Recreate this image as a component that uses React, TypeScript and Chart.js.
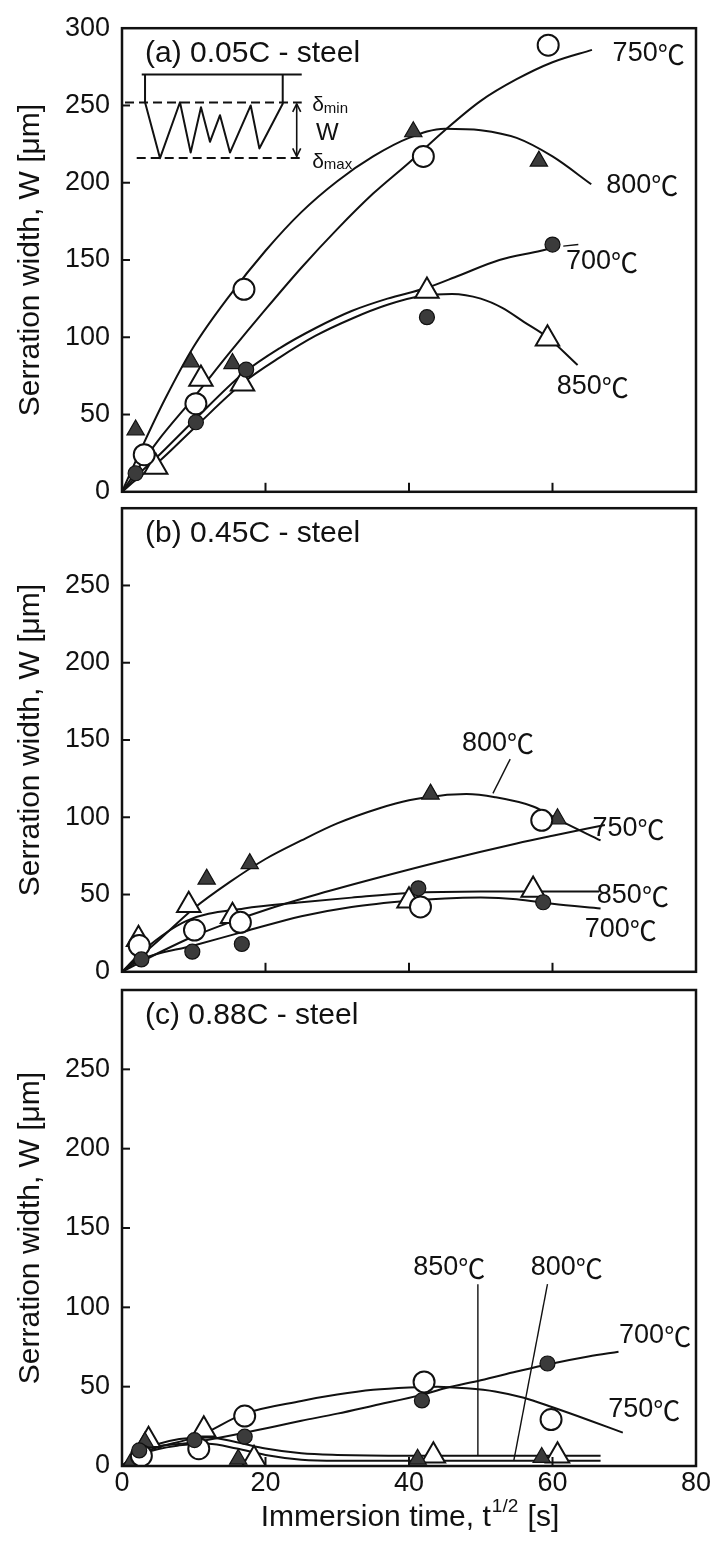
import React, { useEffect, useRef } from "react";
import { Chart, registerables } from "chart.js";

Chart.register(...registerables);

type XY = [number, number];

const FONT = '"Liberation Sans", "Noto Sans CJK JP", Arial, sans-serif';
const CJK_FONT = '"Noto Sans CJK JP", "Liberation Sans", sans-serif';

// ---------- axes ----------
const X_TICKS = [0, 20, 40, 60, 80];
const X_INNER_TICKS = [20, 40, 60];
const Y_TICKS_A = [0, 50, 100, 150, 200, 250, 300];
const Y_TICKS_BC = [0, 50, 100, 150, 200, 250];
const Y_INNER_TICKS = [50, 100, 150, 200, 250];

const PANEL_TITLES = ["(a) 0.05C - steel", "(b) 0.45C - steel", "(c) 0.88C - steel"];
const Y_TITLE = "Serration width, W [μm]";
const X_TITLE_MAIN = "Immersion time, t";
const X_TITLE_SUP = "1/2";
const X_TITLE_END = " [s]";

const TEMPS = ["700", "750", "800", "850"];
const DEG_C = "℃";

// ---------- (a) 0.05C steel ----------
const A_700_PTS: XY[] = [[1.9, 12], [10.3, 45], [17.3, 79], [42.5, 113], [60, 160]];
const A_750_PTS: XY[] = [[3.1, 24], [10.3, 57], [17, 131], [42, 217], [59.4, 289]];
const A_800_PTS: XY[] = [[1.9, 40], [9.6, 84], [15.4, 83], [40.6, 233], [58.1, 214]];
const A_850_PTS: XY[] = [[4.7, 16], [11, 73], [16.8, 70], [42.5, 130], [59.3, 99]];

const A_700_CURVE: XY[] = [[0, 0], [2, 10], [5, 23], [10, 46], [17, 77], [22, 93], [27, 106], [32, 117], [37, 125], [42.5, 132], [47, 140], [52.6, 150], [58.4, 156], [60, 158]];
const A_750_CURVE: XY[] = [[0, 0], [5, 33], [10, 61], [15, 90], [20, 118], [25, 145], [30, 170], [35, 193], [40, 213], [45, 234], [50, 253], [55, 267], [60, 278], [65.5, 286]];
const A_800_CURVE: XY[] = [[0, 0], [3, 31], [6, 60], [10, 94], [15, 127], [20, 156], [25, 181], [30, 201], [35, 217], [40, 229], [45, 235], [50, 234], [55, 229], [60, 217], [65.4, 199]];
const A_850_CURVE: XY[] = [[0, 0], [2, 8], [5, 19], [10, 41], [17, 71], [22, 87], [27, 101], [32, 112], [37, 121], [42, 127], [46, 128], [50, 125], [53, 119], [56, 110], [59.3, 100], [63.5, 82]];

// ---------- (b) 0.45C steel ----------
const B_700_PTS: XY[] = [[2.7, 8], [9.8, 13], [16.7, 18], [41.3, 54], [58.7, 45]];
const B_750_PTS: XY[] = [[2.4, 17], [10.1, 27], [16.5, 32], [41.6, 42], [58.5, 98]];
const B_800_PTS: XY[] = [[11.8, 60], [17.8, 70], [43, 115], [60.7, 99]];
const B_850_PTS: XY[] = [[2.3, 21], [9.3, 43], [15.4, 36], [40, 46], [57.3, 53]];

const B_700_CURVE: XY[] = [[0, 0], [2.7, 8], [10, 17], [17, 26], [25, 36], [32, 42], [40, 46], [45, 47.5], [50, 48], [55, 47], [60, 44], [66.7, 41]];
const B_750_CURVE: XY[] = [[0, 0], [5, 12], [10, 23], [15, 32], [20, 40], [26.4, 49], [35, 60], [45, 72], [55, 83], [60, 88], [67.3, 95]];
const B_800_CURVE: XY[] = [[0, 0], [5, 20], [10, 41], [15, 58], [20, 73], [25, 85], [30, 96], [36, 106], [40, 111], [44.3, 114], [48, 115], [52, 113], [57.3, 107], [61, 98], [66.7, 85]];
const B_850_CURVE: XY[] = [[0, 0], [3, 14], [9, 33], [17, 41], [25, 45], [32, 48], [40, 51], [50, 52], [60, 52], [66.5, 52]];

// ---------- (c) 0.88C steel ----------
const C_700_PTS: XY[] = [[2.4, 9.8], [10.1, 16.3], [17.1, 18.5], [41.8, 41.3], [59.3, 64.6]];
const C_750_PTS: XY[] = [[2.7, 6.5], [10.7, 10.9], [17.1, 31.5], [42.1, 53], [59.8, 29.3]];
const C_800_PTS: XY[] = [[1.1, 1], [3.2, 15], [16.2, 4.3], [41.2, 4.3], [58.5, 5.4]];
const C_850_PTS: XY[] = [[3.7, 16.3], [11.4, 22.8], [18.4, 4.3], [43.4, 6.5], [60.7, 6.5]];

const C_700_CURVE: XY[] = [[0, 0], [2.4, 9], [10.1, 15], [17.1, 21], [25, 28.5], [30, 33], [35, 38], [41.9, 45], [45, 49], [50, 54], [55, 59.5], [59.3, 64], [65, 69], [69.2, 72]];
const C_750_CURVE: XY[] = [[0, 0], [2.7, 8], [10.7, 19], [17.1, 33], [25, 41], [30, 45], [35, 48], [40, 49.5], [44, 50], [48, 49], [52, 47], [56, 43], [60, 37], [65, 29], [69.8, 21]];
const C_800_CURVE: XY[] = [[0, 0], [3, 8], [8, 13], [12, 14], [16, 11], [20, 7], [25, 4], [30, 3.3], [40, 3.3], [50, 3.3], [60, 3.3], [66.7, 3.3]];
const C_850_CURVE: XY[] = [[0, 0], [3, 10], [8, 17], [12, 18], [16, 15], [20, 11], [25, 8], [30, 7], [40, 6.5], [50, 6.5], [60, 6.5], [66.7, 6.5]];

// ---------- annotations (data coordinates) ----------
const A_LABELS: [string, number, number][] = [[TEMPS[1], 73.4, 283.6], [TEMPS[2], 72.5, 198.4], [TEMPS[0], 66.9, 149], [TEMPS[3], 65.6, 68]];
const B_LABELS: [string, number, number][] = [[TEMPS[2], 52.4, 148], [TEMPS[1], 70.6, 92.6], [TEMPS[3], 71.2, 49.5], [TEMPS[0], 69.5, 27.4]];
const C_LABELS: [string, number, number][] = [[TEMPS[3], 45.6, 125], [TEMPS[2], 62, 125], [TEMPS[0], 74.3, 82], [TEMPS[1], 72.8, 35.4]];

const A_LEADERS: XY[][] = [[[61.5, 159], [63.6, 160]]];
const B_LEADERS: XY[][] = [[[54.1, 137.6], [51.7, 115.5]]];
const C_LEADERS: XY[][] = [[[49.6, 114.6], [49.6, 6.5]], [[59.3, 114.6], [54.6, 3.3]]];

// inset schematic in panel (a)
const INSET_TOP: XY[] = [[2.75, 270], [25.05, 270]];
const INSET_DMIN: XY[] = [[0.42, 252], [25.05, 252]];
const INSET_DMAX: XY[] = [[2.05, 216], [25.05, 216]];
const INSET_WAVE: XY[] = [[3.21, 270], [3.21, 252.1], [5.3, 215.9], [8.08, 252.1], [9.57, 219.5], [11.01, 248.9], [12.26, 226.5], [13.66, 243.7], [15.05, 219.5], [17.94, 250], [19.14, 222.2], [22.4, 251.1], [22.4, 270]];
const INSET_ARROW: XY[] = [[24.35, 251], [24.35, 217]];

type MarkerStyle = { pointStyle: "circle" | "triangle"; r: number; fill: string; bw: number };
const STYLE_700: MarkerStyle = { pointStyle: "circle", r: 7.5, fill: "#3b3b3b", bw: 1.2 };
const STYLE_750: MarkerStyle = { pointStyle: "circle", r: 10.5, fill: "#ffffff", bw: 2 };
const STYLE_800: MarkerStyle = { pointStyle: "triangle", r: 10, fill: "#3b3b3b", bw: 1.2 };
const STYLE_850: MarkerStyle = { pointStyle: "triangle", r: 13.5, fill: "#ffffff", bw: 2 };

type PanelCfg = {
  canvasTop: number;
  canvasHeight: number;
  padTop: number;
  padBottom: number;
  yTicks: number[];
  showX: boolean;
  title: string;
  curves: XY[][];
  markers: [XY[], MarkerStyle][];
  labels: [string, number, number][];
  leaders: XY[][];
  inset: boolean;
};

const PANELS: PanelCfg[] = [
  {
    canvasTop: 0, canvasHeight: 520, padTop: 21, padBottom: 24, yTicks: Y_TICKS_A, showX: false,
    title: PANEL_TITLES[0],
    curves: [A_700_CURVE, A_750_CURVE, A_800_CURVE, A_850_CURVE],
    markers: [[A_700_PTS, STYLE_700], [A_750_PTS, STYLE_750], [A_800_PTS, STYLE_800], [A_850_PTS, STYLE_850]],
    labels: A_LABELS, leaders: A_LEADERS, inset: true,
  },
  {
    canvasTop: 480, canvasHeight: 520, padTop: 25, padBottom: 19, yTicks: Y_TICKS_BC, showX: false,
    title: PANEL_TITLES[1],
    curves: [B_700_CURVE, B_750_CURVE, B_800_CURVE, B_850_CURVE],
    markers: [[B_700_PTS, STYLE_700], [B_750_PTS, STYLE_750], [B_800_PTS, STYLE_800], [B_850_PTS, STYLE_850]],
    labels: B_LABELS, leaders: B_LEADERS, inset: false,
  },
  {
    canvasTop: 960, canvasHeight: 584, padTop: 30, padBottom: 0, yTicks: Y_TICKS_BC, showX: true,
    title: PANEL_TITLES[2],
    curves: [C_700_CURVE, C_750_CURVE, C_800_CURVE, C_850_CURVE],
    markers: [[C_700_PTS, STYLE_700], [C_750_PTS, STYLE_750], [C_800_PTS, STYLE_800], [C_850_PTS, STYLE_850]],
    labels: C_LABELS, leaders: C_LEADERS, inset: false,
  },
];

const INK = "#111111";

function toPts(a: XY[]) {
  return a.map(([x, y]) => ({ x, y }));
}

function makePlugin(cfg: PanelCfg) {
  return {
    id: "panelDecor",
    afterDraw(chart: any) {
      const ctx: CanvasRenderingContext2D = chart.ctx;
      const { left, right, top, bottom } = chart.chartArea;
      const xs = chart.scales.x;
      const ys = chart.scales.y;
      const P = (x: number, y: number): [number, number] => [xs.getPixelForValue(x), ys.getPixelForValue(y)];
      const poly = (pts: XY[]) => {
        ctx.beginPath();
        pts.forEach(([x, y], i) => {
          const [px, py] = P(x, y);
          if (i === 0) ctx.moveTo(px, py);
          else ctx.lineTo(px, py);
        });
        ctx.stroke();
      };
      ctx.save();
      ctx.strokeStyle = INK;
      ctx.fillStyle = INK;
      ctx.lineCap = "butt";

      // frame
      ctx.lineWidth = 2.5;
      ctx.strokeRect(left, top, right - left, bottom - top);

      // inward ticks
      ctx.lineWidth = 2;
      Y_INNER_TICKS.forEach((v) => {
        const y = ys.getPixelForValue(v);
        ctx.beginPath();
        ctx.moveTo(left, y);
        ctx.lineTo(left + 8, y);
        ctx.stroke();
      });
      X_INNER_TICKS.forEach((v) => {
        const x = xs.getPixelForValue(v);
        ctx.beginPath();
        ctx.moveTo(x, bottom);
        ctx.lineTo(x, bottom - 9);
        ctx.stroke();
      });

      // panel title
      ctx.font = `30px ${FONT}`;
      ctx.textAlign = "left";
      ctx.textBaseline = "middle";
      ctx.fillText(cfg.title, left + 23, top + 26);

      // temperature labels: digits + wide ℃ sign
      cfg.labels.forEach(([t, x, y]) => {
        const [px, py] = P(x, y);
        ctx.font = `27px ${FONT}`;
        const wd = ctx.measureText(t).width;
        ctx.font = `27px ${CJK_FONT}`;
        const wc = ctx.measureText(DEG_C).width;
        const x0 = px - (wd + wc) / 2;
        ctx.textAlign = "left";
        ctx.font = `27px ${FONT}`;
        ctx.fillText(t, x0, py);
        ctx.font = `27px ${CJK_FONT}`;
        ctx.fillText(DEG_C, x0 + wd, py + 1);
      });

      // leaders
      ctx.lineWidth = 1.4;
      cfg.leaders.forEach((l) => poly(l));

      if (cfg.inset) {
        ctx.lineWidth = 2;
        poly(INSET_TOP);
        ctx.lineJoin = "round";
        poly(INSET_WAVE);
        ctx.setLineDash([9, 5]);
        poly(INSET_DMIN);
        poly(INSET_DMAX);
        ctx.setLineDash([]);
        // double arrow
        ctx.lineWidth = 1.6;
        poly(INSET_ARROW);
        const [ax, ay1] = P(INSET_ARROW[0][0], INSET_ARROW[0][1]);
        const [, ay2] = P(INSET_ARROW[1][0], INSET_ARROW[1][1]);
        ctx.beginPath();
        ctx.moveTo(ax - 4, ay1 + 8); ctx.lineTo(ax, ay1); ctx.lineTo(ax + 4, ay1 + 8);
        ctx.moveTo(ax - 4, ay2 - 8); ctx.lineTo(ax, ay2); ctx.lineTo(ax + 4, ay2 - 8);
        ctx.stroke();
        // texts
        ctx.textAlign = "left";
        ctx.textBaseline = "middle";
        const sub = (main: string, s: string, x: number, y: number) => {
          const [px, py] = P(x, y);
          ctx.font = `21px ${FONT}`;
          ctx.fillText(main, px, py);
          const w = ctx.measureText(main).width;
          ctx.font = `15px ${FONT}`;
          ctx.fillText(s, px + w, py + 3);
        };
        sub("δ", "min", 26.5, 250);
        sub("δ", "max", 26.5, 213.5);
        ctx.font = `24px ${FONT}`;
        ctx.textAlign = "center";
        const [wx, wy] = P(28.6, 232);
        ctx.fillText("W", wx, wy);
      }

      if (cfg.showX) {
        // x-axis title with superscript
        const cx = (left + right) / 2;
        const cy = bottom + 52;
        ctx.textAlign = "left";
        ctx.textBaseline = "middle";
        ctx.font = `30px ${FONT}`;
        const w1 = ctx.measureText(X_TITLE_MAIN).width;
        const w3 = ctx.measureText(X_TITLE_END).width;
        ctx.font = `19px ${FONT}`;
        const w2 = ctx.measureText(X_TITLE_SUP).width;
        let x0 = cx - (w1 + w2 + w3) / 2;
        ctx.font = `30px ${FONT}`;
        ctx.fillText(X_TITLE_MAIN, x0, cy);
        x0 += w1;
        ctx.font = `19px ${FONT}`;
        ctx.fillText(X_TITLE_SUP, x0 + 1, cy - 11);
        x0 += w2 + 2;
        ctx.font = `30px ${FONT}`;
        ctx.fillText(X_TITLE_END, x0, cy);
      }
      ctx.restore();
    },
  };
}

function buildConfig(cfg: PanelCfg): any {
  const curveSets = cfg.curves.map((c) => ({
    data: toPts(c),
    showLine: true,
    borderColor: INK,
    borderWidth: 2,
    pointRadius: 0,
    pointHoverRadius: 0,
    cubicInterpolationMode: "monotone",
    tension: 0.4,
    fill: false,
    order: 2,
  }));
  const markerSets = cfg.markers.map(([pts, st]) => ({
    data: toPts(pts),
    showLine: false,
    pointStyle: st.pointStyle,
    pointRadius: st.r,
    pointHoverRadius: st.r,
    pointBackgroundColor: st.fill,
    pointBorderColor: INK,
    pointBorderWidth: st.bw,
    order: 1,
  }));
  return {
    type: "scatter",
    data: { datasets: [...curveSets, ...markerSets] },
    options: {
      responsive: false,
      animation: false,
      events: [],
      layout: { padding: { left: 0, right: 22, top: cfg.padTop, bottom: cfg.padBottom } },
      plugins: { legend: { display: false }, tooltip: { enabled: false } },
      scales: {
        x: {
          type: "linear",
          min: 0,
          max: 80,
          display: cfg.showX,
          grid: { display: false, drawTicks: false },
          border: { display: false },
          afterBuildTicks: (s: any) => {
            s.ticks = X_TICKS.map((v) => ({ value: v }));
          },
          afterFit: (s: any) => {
            if (cfg.showX) s.height = 78;
          },
          ticks: {
            autoSkip: false,
            maxRotation: 0,
            padding: 1,
            color: INK,
            font: { family: FONT, size: 27 },
          },
        },
        y: {
          type: "linear",
          min: 0,
          max: 300,
          grid: { display: false, drawTicks: false },
          border: { display: false },
          afterBuildTicks: (s: any) => {
            s.ticks = cfg.yTicks.map((v) => ({ value: v }));
          },
          afterFit: (s: any) => {
            s.width = 122;
          },
          ticks: {
            autoSkip: false,
            padding: 12,
            color: INK,
            font: { family: FONT, size: 27 },
          },
          title: {
            display: true,
            text: Y_TITLE,
            color: INK,
            font: { family: FONT, size: 30 },
            padding: { top: 13, bottom: 0 },
          },
        },
      },
    },
    plugins: [makePlugin(cfg)],
  };
}

function Panel({ cfg }: { cfg: PanelCfg }) {
  const ref = useRef<HTMLCanvasElement>(null);
  useEffect(() => {
    if (!ref.current) return;
    const chart = new Chart(ref.current, buildConfig(cfg));
    return () => chart.destroy();
  }, [cfg]);
  return (
    <canvas
      ref={ref}
      width={718}
      height={cfg.canvasHeight}
      style={{ position: "absolute", left: 0, top: cfg.canvasTop, width: 718, height: cfg.canvasHeight }}
    />
  );
}

export default function App() {
  return (
    <div style={{ position: "absolute", left: 0, top: 0, width: 718, height: 1544, background: "#ffffff", overflow: "hidden" }}>
      {PANELS.map((p, i) => (
        <Panel key={i} cfg={p} />
      ))}
    </div>
  );
}
